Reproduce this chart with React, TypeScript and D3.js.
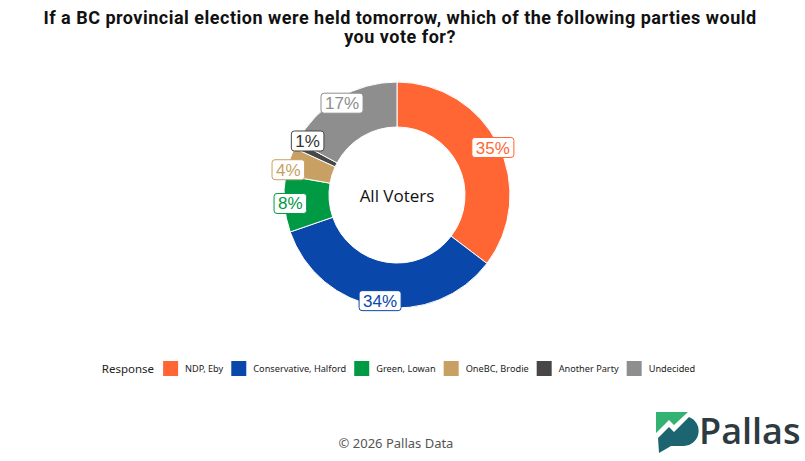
import * as d3 from "d3";
import { useEffect, useRef } from "react";

const titleLines = [
  "If a BC provincial election were held tomorrow, which of the following parties would",
  "you vote for?",
];
const categories = ["NDP, Eby", "Conservative, Halford", "Green, Lowan", "OneBC, Brodie", "Another Party", "Undecided"];
const values = [35, 34, 8, 4, 1, 17];
const palette = ["#ff6633", "#0a47aa", "#009a44", "#c9a063", "#474747", "#8e8e8e"];
const centerLabel = "All Voters";
const legendTitle = "Response";
const footer = "\u00a9 2026 Pallas Data";

const W = 805;
const H = 461;

export default function App() {
  const ref = useRef<SVGSVGElement>(null);

  useEffect(() => {
    if (!ref.current) return;
    const svg = d3.select(ref.current);
    svg.selectAll("*").remove();

    svg.append("rect").attr("width", W).attr("height", H).attr("fill", "#fff");

    // Title
    svg
      .append("g")
      .selectAll("text")
      .data(titleLines)
      .join("text")
      .attr("x", 400)
      .attr("y", (_, i) => 24 + i * 19)
      .attr("text-anchor", "middle")
      .attr("font-family", "Roboto, sans-serif")
      .attr("font-weight", 700)
      .attr("font-size", 18)
      .attr("letter-spacing", 0.5)
      .attr("fill", "#111")
      .text(d => d);

    // Donut
    const cx = 397;
    const cy = 195;
    const R = 113;
    const r0 = 68;
    const pie = d3
      .pie<number>()
      .sort(null)
      .value(d => d);
    const arcs = pie(values);
    const arc = d3.arc<d3.PieArcDatum<number>>().innerRadius(r0).outerRadius(R);

    const g = svg.append("g").attr("transform", `translate(${cx},${cy})`);
    g.selectAll("path")
      .data(arcs)
      .join("path")
      .attr("d", arc)
      .attr("fill", (_, i) => palette[i])
      .attr("stroke", "#fff")
      .attr("stroke-width", 1);

    g.append("text")
      .attr("text-anchor", "middle")
      .attr("y", 7)
      .attr("font-family", "'Open Sans', sans-serif")
      .attr("font-size", 17)
      .attr("fill", "#111")
      .text(centerLabel);

    // Percentage labels, nudged apart where they collide
    const labelR = 107;
    const lg = g.append("g");
    const labels = arcs.map((a, i) => {
      const t = lg
        .append("text")
        .attr("font-family", "'Liberation Sans', Arial, sans-serif")
        .attr("font-size", 17)
        .attr("text-anchor", "middle")
        .attr("fill", i === 4 ? "#333" : palette[i])
        .text(`${a.data}%`);
      const tw = (t.node() as SVGTextElement).getComputedTextLength();
      const mid = (a.startAngle + a.endAngle) / 2;
      return { i, x: Math.sin(mid) * labelR, y: -Math.cos(mid) * labelR, w: tw + 8, h: 20, t };
    });
    for (let iter = 0; iter < 200; iter++) {
      let moved = false;
      for (let a = 0; a < labels.length; a++) {
        for (let b = a + 1; b < labels.length; b++) {
          const la = labels[a];
          const lb = labels[b];
          const dx = lb.x - la.x;
          const dy = lb.y - la.y;
          if (Math.abs(dx) < (la.w + lb.w) / 2 + 2 && Math.abs(dy) < (la.h + lb.h) / 2 + 8) {
            const sx = Math.sign(dx) || 1;
            const sy = Math.sign(dy) || 1;
            la.x -= sx * 0.5;
            la.y -= sy * 0.5;
            lb.x += sx * 0.5;
            lb.y += sy * 0.5;
            moved = true;
          }
        }
      }
      if (!moved) break;
    }
    labels.forEach(l => {
      lg.insert("rect", "text")
        .attr("x", l.x - l.w / 2)
        .attr("y", l.y - l.h / 2)
        .attr("width", l.w)
        .attr("height", l.h)
        .attr("rx", 3)
        .attr("fill", "#fff")
        .attr("stroke", palette[l.i])
        .attr("stroke-width", 1);
      l.t.attr("x", l.x).attr("y", l.y + 6);
    });

    // Legend
    const leg = svg.append("g");
    const lt = leg
      .append("text")
      .attr("x", 0)
      .attr("y", 0)
      .attr("font-family", "'Noto Sans', sans-serif")
      .attr("font-size", 11.5)
      .attr("fill", "#222")
      .text(legendTitle);
    let x = (lt.node() as SVGTextElement).getComputedTextLength() + 9;
    categories.forEach((c, i) => {
      leg
        .append("rect")
        .attr("x", x)
        .attr("y", -12)
        .attr("width", 15)
        .attr("height", 15)
        .attr("fill", palette[i]);
      const t = leg
        .append("text")
        .attr("x", x + 22)
        .attr("y", -1)
        .attr("font-family", "'Noto Sans', sans-serif")
        .attr("font-size", 9.2)
        .attr("fill", "#222")
        .text(c);
      x += 22 + (t.node() as SVGTextElement).getComputedTextLength() + 8;
    });
    const legW = x - 8;
    leg.attr("transform", `translate(${398.5 - legW / 2},373)`);

    // Footer
    svg
      .append("text")
      .attr("x", 396)
      .attr("y", 448)
      .attr("text-anchor", "middle")
      .attr("font-family", "'Noto Sans', sans-serif")
      .attr("font-size", 13)
      .attr("fill", "#555")
      .text(footer);

    // Logo
    const logo = svg.append("g");
    logo
      .append("path")
      .attr("d", "M656,412 L688,412 L674,425 L669,420 L656,433 Z")
      .attr("fill", "#33b373");
    logo
      .append("path")
      .attr("d", "M658,438 L669,427 L674,432 L689,417 A15,15 0 0 1 684,446 L671,446 L659,453 Z")
      .attr("fill", "#1b6470");
    logo
      .append("text")
      .attr("x", 699)
      .attr("y", 444)
      .attr("font-family", "'Open Sans', sans-serif")
      .attr("font-weight", 600)
      .attr("font-size", 36)
      .attr("fill", "#2d3a40")
      .text("Pallas");
  }, []);

  return (
    <svg
      ref={ref}
      width={W}
      height={H}
      style={{ position: "absolute", left: 0, top: 0, display: "block" }}
    />
  );
}
